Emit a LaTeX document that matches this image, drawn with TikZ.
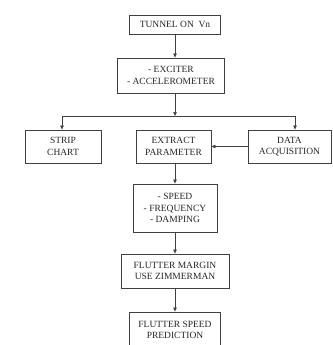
\documentclass[tikz,border=0pt]{standalone}
\usepackage{fontspec}
\setmainfont{Liberation Serif}
\usetikzlibrary{arrows.meta}
\tikzset{
  blk/.style={draw=black!75, line width=0.8pt, align=center, inner sep=0pt,
    text=black!85, font=\fontsize{9.5}{11.5}\selectfont},
  link/.style={draw=black!75, line width=0.7pt, -{Triangle[length=4pt,width=3.5pt]}},
  wire/.style={draw=black!75, line width=0.7pt}
}
\begin{document}
\begin{tikzpicture}[x=1pt,y=-1pt]
      \useasboundingbox (0,0) rectangle (332,345);
      \node[blk, minimum width=91pt, minimum height=19pt] (tunnel) at (175,24.5) {TUNNEL ON\ \ Vn};
      \node[blk, minimum width=107pt, minimum height=35pt] (exciter) at (171,75.5) {- EXCITER\\- ACCELEROMETER};
      \node[blk, minimum width=76pt, minimum height=33pt] (strip) at (63,146.5) {STRIP\\CHART};
      \node[blk, minimum width=75pt, minimum height=33pt] (extract) at (173.5,146.5) {EXTRACT\\PARAMETER};
      \node[blk, minimum width=83pt, minimum height=33pt] (daq) at (289.5,146.5) {DATA\\ACQUISITION};
      \node[blk, minimum width=84pt, minimum height=48pt] (speed) at (175,208) {- SPEED\\- FREQUENCY\\- DAMPING};
      \node[blk, minimum width=108pt, minimum height=34pt] (margin) at (175,271) {FLUTTER MARGIN\\USE ZIMMERMAN};
      \node[blk, minimum width=91pt, minimum height=36pt] (predict) at (175,330) {FLUTTER SPEED\\PREDICTION};
      % split under the exciter box
      \coordinate (split) at (175,116);
      \coordinate (left) at (62,116);
      \coordinate (right) at (295,116);
      \begin{scope}
        \draw[link] (tunnel) -- (tunnel |- exciter.north);
        \draw[link] (split |- exciter.south) -- (split);
        \draw[wire] (left) -- (right);
        \draw[link] (left) -- (left |- strip.north);
        \draw[link] (right) -- (right |- daq.north);
        \draw[link] (daq.west) -- (extract.east);
        \draw[link] (split |- extract.south) -- (speed.north);
        \draw[link] (speed) -- (margin.north);
        \draw[link] (margin) -- (predict.north);
      \end{scope}
    \end{tikzpicture}
\end{document}
